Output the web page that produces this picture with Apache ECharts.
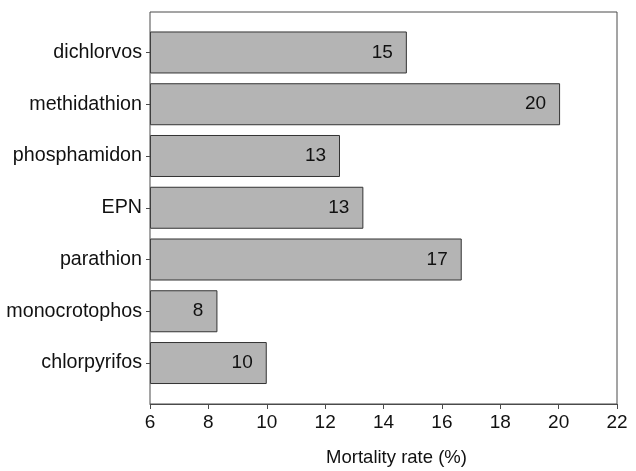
<!DOCTYPE html>
<html>
<head>
<meta charset="utf-8">
<script src="https://cdn.jsdelivr.net/npm/echarts@6/dist/echarts.min.js"></script>
<style>
html,body{margin:0;padding:0;background:#fff;}
#c{width:636px;height:471px;}
</style>
</head>
<body>
<div id="c"></div>
<script>
var categories = ['dichlorvos','methidathion','phosphamidon','EPN','parathion','monocrotophos','chlorpyrifos'];
var mortality = [14.8, 20.05, 12.51, 13.31, 16.68, 8.31, 10.0];
var valueLabels = ['15','20','13','13','17','8','10'];
var xTicks = [6, 8, 10, 12, 14, 16, 18, 20, 22];
var xTitle = 'Mortality rate (%)';

var FONT = "'Liberation Sans Narrow','Arial Narrow','Liberation Sans',Arial,sans-serif";
var chart = echarts.init(document.getElementById('c'), null, {renderer:'canvas'});
var xMin = xTicks[0], xMax = xTicks[xTicks.length-1], xStep = xTicks[1]-xTicks[0];

chart.setOption({
  animation: false,
  backgroundColor: '#fff',
  textStyle: {fontFamily: FONT},
  grid: [
    {left: 150, width: 467, top: 26.6, height: 362.3, containLabel: false, outerBoundsMode: 'none'},
    {left: 150, width: 467, top: 12, height: 392, show: true, borderColor: '#4a4a4a', borderWidth: 1, backgroundColor: 'transparent', z: 5, containLabel: false, outerBoundsMode: 'none'}
  ],
  xAxis: [
    {gridIndex: 0, type: 'value', min: xMin, max: xMax, interval: xStep, startValue: xMin, show: false},
    {gridIndex: 1, type: 'value', min: xMin, max: xMax, interval: xStep,
      axisLine: {show: true, lineStyle: {color: '#4a4a4a', width: 1}},
      axisTick: {show: true, length: 5, inside: false, lineStyle: {color: '#4a4a4a'}},
      splitLine: {show: false},
      axisLabel: {fontSize: 19, color: '#111', margin: 9, fontFamily: FONT},
      name: xTitle, nameLocation: 'middle', nameGap: 44,
      nameTextStyle: {fontSize: 18.5, color: '#111', fontFamily: FONT, padding: [0, 0, 0, 26]}
    }
  ],
  yAxis: [
    {gridIndex: 0, type: 'category', data: categories, inverse: true,
      axisLine: {show: false},
      axisTick: {show: true, length: 4, alignWithLabel: true, lineStyle: {color: '#4a4a4a'}},
      axisLabel: {fontSize: 19.7, color: '#111', margin: 8, fontFamily: FONT},
      splitLine: {show: false}
    },
    {gridIndex: 1, type: 'value', show: false, min: 0, max: 1}
  ],
  series: [{
    type: 'bar',
    xAxisIndex: 0, yAxisIndex: 0,
    data: mortality,
    barWidth: 42,
    clip: true,
    itemStyle: {color: '#b4b4b4', borderColor: '#333', borderWidth: 1},
    label: {
      show: true, position: 'insideRight', distance: 14,
      fontSize: 19, color: '#111', fontFamily: FONT,
      formatter: function(p){ return valueLabels[p.dataIndex]; }
    }
  }]
});
</script>
</body>
</html>
